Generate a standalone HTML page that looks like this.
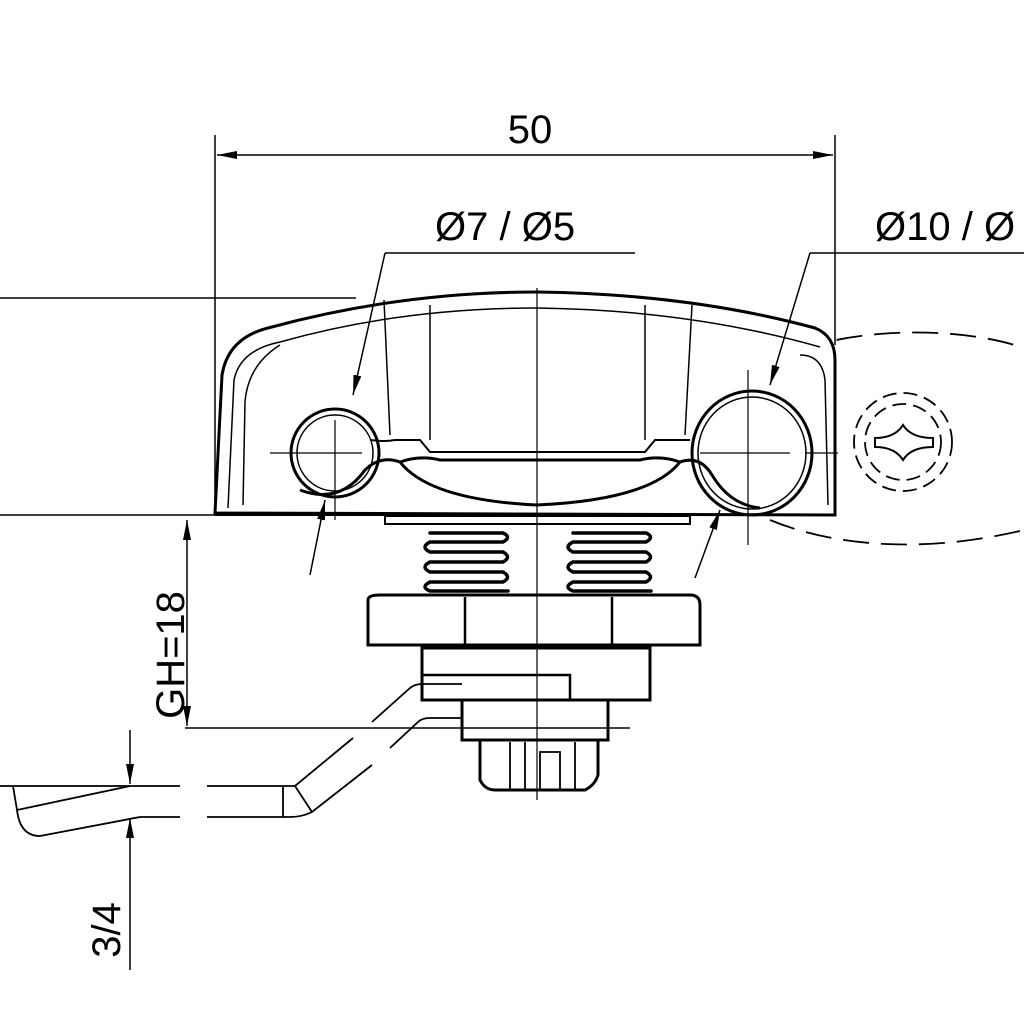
<!DOCTYPE html>
<html><head><style>html,body{margin:0;padding:0;background:#fff}svg{display:block}</style></head>
<body>
<svg width="1024" height="1024" viewBox="0 0 1024 1024" xmlns="http://www.w3.org/2000/svg" fill="none" stroke="#000" stroke-width="2">
<defs>
<marker id="a" viewBox="0 0 20 8" refX="20" refY="4" markerWidth="20" markerHeight="8" orient="auto-start-reverse" markerUnits="userSpaceOnUse"><path d="M0 0L20 4L0 8z" fill="#000" stroke="none"/></marker>
</defs>
<g font-family="Liberation Sans, sans-serif" fill="#000" stroke="none" font-size="40">
<text x="530" y="143" text-anchor="middle">50</text>
<text x="435" y="240">Ø7 / Ø5</text>
<text x="875" y="240">Ø10 / Ø</text>
<text transform="translate(184,655) rotate(-90)" text-anchor="middle">GH=18</text>
<text transform="translate(120,930) rotate(-90)" text-anchor="middle">3/4</text>
</g>
<g stroke-width="1.8" stroke-dasharray="26 12">
<path d="M800 350 C860 328 960 326 1024 348"/>
<path d="M770 520 C830 545 920 555 1024 530"/>
<circle cx="903" cy="442" r="49" stroke-dasharray="14 7"/>
<circle cx="903" cy="442" r="38" stroke-dasharray="14 7"/>
</g>
<path d="M875 438 Q895 438 903 425 Q911 438 933 438 L933 447 Q911 447 903 460 Q895 447 875 447 Z" stroke-width="2"/>
<line x1="215" y1="135" x2="215" y2="515" stroke-width="1.5"/>
<line x1="835" y1="135" x2="835" y2="345" stroke-width="1.5"/>
<line x1="217" y1="155" x2="833" y2="155" marker-start="url(#a)" marker-end="url(#a)" stroke-width="1.5"/>
<line x1="0" y1="298" x2="356" y2="298" stroke-width="1.5"/>
<line x1="0" y1="515" x2="215" y2="515" stroke-width="1.5"/>
<path d="M215 513 L222 375 Q228 338 268 328 Q400 292 537 292 Q690 294 815 328 Q835 336 835 360 L835 515 Z" stroke-width="3" fill="#fff"/>
<path d="M228 508 L234 380 Q240 350 280 342 Q400 308 537 308 Q690 310 820 347" stroke-width="1.5"/>
<path d="M243 505 L245 402 Q248 365 280 345" stroke-width="1.5"/>
<path d="M800 355 Q822 355 825 380 L828 505" stroke-width="1.5"/>
<line x1="384" y1="300" x2="390" y2="435" stroke-width="1.5"/>
<line x1="430" y1="305" x2="430" y2="440" stroke-width="1.5"/>
<line x1="645" y1="305" x2="645" y2="440" stroke-width="1.5"/>
<line x1="692" y1="305" x2="685" y2="435" stroke-width="1.5"/>
<circle cx="335" cy="453" r="44" stroke-width="3"/>
<circle cx="335" cy="453" r="38" stroke-width="1.5"/>
<ellipse cx="752" cy="453" rx="60" ry="62" stroke-width="3"/>
<ellipse cx="752" cy="453" rx="54" ry="56" stroke-width="1.5"/>
<path d="M370 440 Q385 442 395 440 L420 440 L430 452 L645 452 L655 440 L690 440" stroke-width="2"/>
<path d="M300 490 Q340 505 365 470 Q380 455 400 462 Q430 500 537 505 Q650 500 680 462 Q700 455 712 475 Q730 505 760 508" stroke-width="3"/>
<path d="M400 462 Q420 455 440 460 L640 460 Q660 455 680 462" stroke-width="3"/>
<line x1="215" y1="515" x2="835" y2="515" stroke-width="2"/>
<g stroke-width="1.2">
<line x1="537" y1="288" x2="537" y2="800"/>
<line x1="270" y1="453" x2="362" y2="453"/><line x1="335" y1="420" x2="335" y2="520"/>
<line x1="700" y1="453" x2="790" y2="453"/><line x1="748" y1="370" x2="748" y2="545"/>
<line x1="805" y1="453" x2="838" y2="453"/>
</g>
<line x1="385" y1="253" x2="635" y2="253" stroke-width="1.5"/>
<line x1="385" y1="253" x2="353" y2="395" marker-end="url(#a)" stroke-width="1.5"/>
<line x1="310" y1="575" x2="325" y2="500" marker-end="url(#a)" stroke-width="1.5"/>
<line x1="810" y1="253" x2="1024" y2="253" stroke-width="1.5"/>
<line x1="810" y1="253" x2="770" y2="385" marker-end="url(#a)" stroke-width="1.5"/>
<line x1="695" y1="578" x2="720" y2="510" marker-end="url(#a)" stroke-width="1.5"/>
<line x1="187" y1="520" x2="187" y2="726" marker-start="url(#a)" marker-end="url(#a)" stroke-width="1.5"/>
<line x1="185" y1="728" x2="630" y2="728" stroke-width="1.5"/>
<line x1="130" y1="730" x2="130" y2="784" marker-end="url(#a)" stroke-width="1.5"/>
<line x1="130" y1="970" x2="130" y2="818" marker-end="url(#a)" stroke-width="1.5"/>
<rect x="385" y="516" width="305" height="8" stroke-width="2"/>
<g stroke-width="3.5" stroke-linecap="round">
<path d="M430 533 H503 Q512 537 503 542 H430 Q420 547 430 552 H503 Q512 557 503 562 H430 Q420 567 430 572 H503 Q512 577 503 582 H430 Q420 587 430 591 H508"/>
<path d="M573 533 H646 Q655 537 646 542 H573 Q563 547 573 552 H646 Q655 557 646 562 H573 Q563 567 573 572 H646 Q655 577 646 582 H573 Q563 587 573 591 H651"/>
</g>
<path d="M368 600 Q368 595 380 595 L690 595 Q700 595 700 605 L700 645 L368 645 Z" stroke-width="3"/>
<line x1="465" y1="597" x2="465" y2="645" stroke-width="2.5"/>
<line x1="612" y1="597" x2="612" y2="645" stroke-width="2.5"/>
<rect x="422" y="648" width="228" height="52" stroke-width="3"/>
<path d="M422 675 L570 675 L570 700" stroke-width="2.5"/>
<rect x="462" y="700" width="146" height="40" stroke-width="3"/>
<path d="M480 740 L480 780 Q485 790 495 790 L585 790 Q595 785 598 775 L598 740" stroke-width="3"/>
<path d="M510 742 V790 M525 742 V790 M575 742 V790 M540 790 V752 H560 V790" stroke-width="1.8"/>
<g stroke-width="1.8">
<path d="M0 786 H180 M207 786 H295 L353 738 M372 722 L410 688 Q415 684 422 684 H462"/>
<path d="M140 817 H180 M207 817 H290 Q302 817 312 812 L372 765 M390 748 L418 722 Q422 718 430 718 H462"/>
<path d="M283 786 V817 M295 786 L312 812"/>
<path d="M13 786 L17 810 Q20 836 40 836 L140 817"/>
<path d="M17 810 L130 786"/>
</g>
</svg>
</body></html>
